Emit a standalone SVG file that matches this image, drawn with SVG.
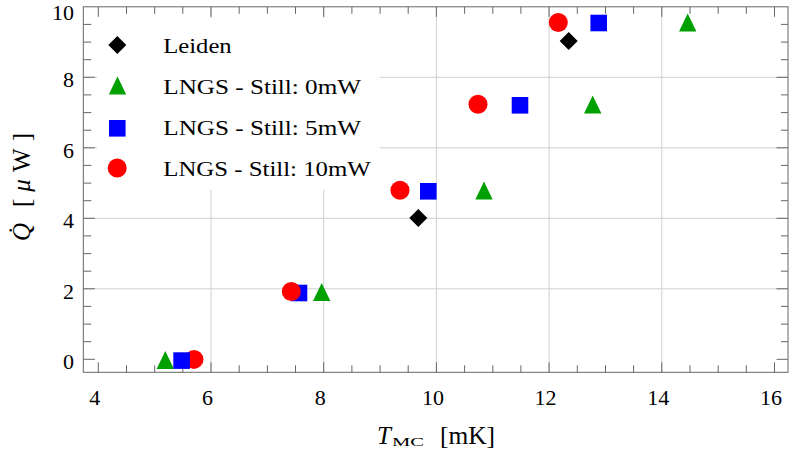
<svg xmlns="http://www.w3.org/2000/svg" xmlns:xlink="http://www.w3.org/1999/xlink" width="789" height="456" viewBox="0 0 789 456">
<style>
.grid{stroke:#d0d0d0;stroke-width:1;fill:none}
.frame{stroke:#666;stroke-width:1;fill:none}
.tick{stroke:#666;stroke-width:1}
.lbl{font-family:"Liberation Serif","Times New Roman",serif;font-size:22px;fill:#000}
.leg{font-family:"Liberation Serif","Times New Roman",serif;font-size:22px;fill:#000}
.ax{font-family:"Liberation Serif","Times New Roman",serif;font-size:25px;fill:#000}
.blk{fill:#000}
.grn{fill:#00a000}
.blu{fill:#0000ff}
.red{fill:#ff0000}
</style>
<defs>
<path id="dia" d="M0,-9 L9,0 L0,9 L-9,0 Z"/>
<path id="tri" d="M0,-9 L8.7,9 L-8.7,9 Z"/>
<rect id="sq" x="-8.3" y="-8.3" width="16.6" height="16.6"/>
<circle id="cir" r="9.5"/>
</defs>
<rect width="789" height="456" fill="#fff"/>
<g id="grid">
<path class="grid" d="M211,6.8V372.3M323.7,6.8V372.3M436.4,6.8V372.3M549.1,6.8V372.3M661.8,6.8V372.3M83.3,288.8H788M83.3,218.3H788M83.3,147.8H788M83.3,77.3H788"/>
</g>
<g id="axes">
<rect class="frame" x="83.3" y="6.8" width="704.7" height="365.5"/>
<path class="tick" d="M98.3,372.3v-10M211,372.3v-10M323.7,372.3v-10M436.4,372.3v-10M549.1,372.3v-10M661.8,372.3v-10M774.5,372.3v-10
M98.3,6.8v10M211,6.8v10M323.7,6.8v10M436.4,6.8v10M549.1,6.8v10M661.8,6.8v10M774.5,6.8v10
M126.5,372.3v-7M154.7,372.3v-7M182.8,372.3v-7M239.2,372.3v-7M267.4,372.3v-7M295.5,372.3v-7M351.9,372.3v-7M380.1,372.3v-7M408.2,372.3v-7M464.6,372.3v-7M492.8,372.3v-7M520.9,372.3v-7M577.3,372.3v-7M605.5,372.3v-7M633.6,372.3v-7M690,372.3v-7M718.2,372.3v-7M746.3,372.3v-7
M126.5,6.8v7M154.7,6.8v7M182.8,6.8v7M239.2,6.8v7M267.4,6.8v7M295.5,6.8v7M351.9,6.8v7M380.1,6.8v7M408.2,6.8v7M464.6,6.8v7M492.8,6.8v7M520.9,6.8v7M577.3,6.8v7M605.5,6.8v7M633.6,6.8v7M690,6.8v7M718.2,6.8v7M746.3,6.8v7
M83.3,359.3h11.5M83.3,288.8h11.5M83.3,218.3h11.5M83.3,147.8h11.5M83.3,77.3h11.5
M788,359.3h-11.5M788,288.8h-11.5M788,218.3h-11.5M788,147.8h-11.5M788,77.3h-11.5
M83.3,341.7h8M83.3,324.1h8M83.3,306.4h8M83.3,271.2h8M83.3,253.6h8M83.3,235.9h8M83.3,200.7h8M83.3,183.1h8M83.3,165.4h8M83.3,130.2h8M83.3,112.6h8M83.3,94.9h8M83.3,59.7h8M83.3,42.1h8M83.3,24.4h8
M788,341.7h-7M788,324.1h-7M788,306.4h-7M788,271.2h-7M788,253.6h-7M788,235.9h-7M788,200.7h-7M788,183.1h-7M788,165.4h-7M788,130.2h-7M788,112.6h-7M788,94.9h-7M788,59.7h-7M788,42.1h-7M788,24.4h-7"/>
</g>
<g id="x-tick-labels" class="lbl" text-anchor="middle">
<text x="94.8" y="405">4</text>
<text x="207.5" y="405">6</text>
<text x="320.2" y="405">8</text>
<text x="432.9" y="405">10</text>
<text x="545.6" y="405">12</text>
<text x="658.3" y="405">14</text>
<text x="771" y="405">16</text>
</g>
<g id="y-tick-labels" class="lbl" text-anchor="end">
<text x="74" y="369.3">0</text>
<text x="74" y="298.8">2</text>
<text x="74" y="228.3">4</text>
<text x="74" y="157.8">6</text>
<text x="74" y="87.3">8</text>
<text x="74" y="20">10</text>
</g>
<g id="x-axis-label" class="ax">
<text x="377" y="443.5"><tspan font-style="italic">T</tspan></text>
<text x="392" y="446" font-size="12.5" textLength="32" lengthAdjust="spacingAndGlyphs">MC</text>
<text x="440" y="443.5" textLength="55" lengthAdjust="spacingAndGlyphs">[mK]</text>
</g>
<g id="y-axis-label" class="ax" font-size="26">
<text transform="translate(30,241) rotate(-90)" font-style="italic">Q̇</text>
<text transform="translate(30,207) rotate(-90)" textLength="74" lengthAdjust="spacing">[<tspan font-style="italic">μ</tspan>W]</text>
</g>
<g id="series-leiden" class="blk">
<use xlink:href="#dia" x="418.3" y="218"/>
<use xlink:href="#dia" x="568.7" y="41"/>
</g>
<g id="series-still-0mW" class="grn">
<use xlink:href="#tri" x="165.3" y="360"/>
<use xlink:href="#tri" x="321.7" y="292"/>
<use xlink:href="#tri" x="484" y="190.5"/>
<use xlink:href="#tri" x="592.7" y="104.5"/>
<use xlink:href="#tri" x="687.7" y="22.5"/>
</g>
<g id="series-still-10mW-low" class="red">
<use xlink:href="#cir" x="194" y="359.4"/>
</g>
<g id="series-still-5mW" class="blu">
<use xlink:href="#sq" x="181.6" y="360.6"/>
<use xlink:href="#sq" x="299" y="293"/>
<use xlink:href="#sq" x="428.3" y="191.3"/>
<use xlink:href="#sq" x="520" y="105.3"/>
<use xlink:href="#sq" x="598.7" y="23"/>
</g>
<g id="series-still-10mW" class="red">
<use xlink:href="#cir" x="291.3" y="291.5"/>
<use xlink:href="#cir" x="400" y="190.2"/>
<use xlink:href="#cir" x="478" y="104.3"/>
<use xlink:href="#cir" x="558.3" y="22.5"/>
</g>
<g id="legend">
<rect x="97" y="18" width="283" height="172" fill="#fff"/>
<use xlink:href="#dia" x="117.3" y="45" class="blk"/>
<use xlink:href="#tri" x="117.5" y="85.5" class="grn"/>
<use xlink:href="#sq" x="117.3" y="128.3" class="blu"/>
<use xlink:href="#cir" x="117.2" y="168" class="red"/>
<text class="leg" x="163.3" y="52.5" textLength="68.4" lengthAdjust="spacingAndGlyphs">Leiden</text>
<text class="leg" x="163.3" y="93.5" textLength="197.7" lengthAdjust="spacingAndGlyphs">LNGS - Still: 0mW</text>
<text class="leg" x="163.3" y="134.5" textLength="197.7" lengthAdjust="spacingAndGlyphs">LNGS - Still: 5mW</text>
<text class="leg" x="163.3" y="175.5" textLength="207.4" lengthAdjust="spacingAndGlyphs">LNGS - Still: 10mW</text>
</g>
</svg>
